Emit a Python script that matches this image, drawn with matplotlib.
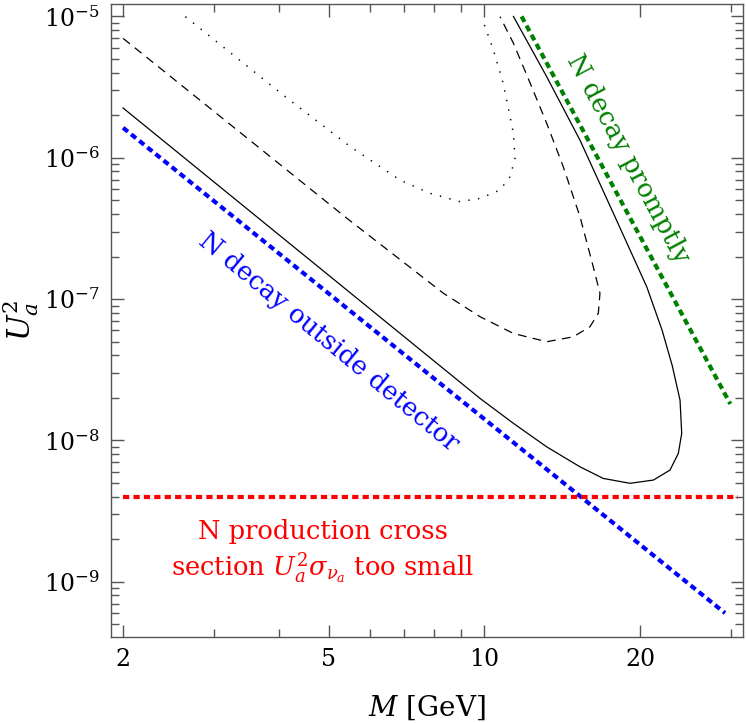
import matplotlib
matplotlib.use("Agg")
import matplotlib.pyplot as plt
from matplotlib.ticker import LogLocator, NullFormatter, FixedLocator, FixedFormatter

plt.rcParams['font.family'] = ['DejaVu Serif']
plt.rcParams['mathtext.fontset'] = 'dejavuserif'

# solid contour
solid_m = [2.0, 9.81, 11.38, 13.2, 15.31, 16.98, 19.13, 21.23, 22.86, 23.72,
           24.08, 23.9, 23.07, 22.06, 20.61, 17.76, 15.31, 13.2, 11.38]
solid_u = [2.25e-6, 1.98e-8, 1.32e-8, 9.0e-9, 6.5e-9, 5.38e-9, 4.97e-9,
           5.24e-9, 6.17e-9, 8.09e-9, 1.12e-8, 1.93e-8, 3.41e-8, 6.04e-8,
           1.22e-7, 4.05e-7, 1.33e-6, 3.74e-6, 1.0e-5]

# dashed contour
dashed_m = [2.0, 5.42, 8.33, 9.81, 11.38, 13.2, 14.86, 16.0, 16.61, 16.73,
            16.24, 15.31, 14.21, 13.2, 12.26, 11.38, 10.72]
dashed_u = [7.0e-6, 3.73e-7, 1.10e-7, 7.5e-8, 5.71e-8, 4.99e-8, 5.41e-8,
            6.37e-8, 7.93e-8, 1.10e-7, 1.69e-7, 3.82e-7, 8.63e-7, 1.75e-6,
            3.37e-6, 6.46e-6, 9.96e-6]

# dotted contour
dotted_m = [2.64, 4.08, 5.50, 6.87, 7.85, 8.97, 9.81, 10.72, 11.21, 11.46,
            11.38, 10.87, 10.41, 9.95]
dotted_u = [9.96e-6, 2.78e-6, 1.20e-6, 6.95e-7, 5.6e-7, 4.89e-7, 5.16e-7,
            5.91e-7, 7.34e-7, 9.84e-7, 1.49e-6, 3.37e-6, 5.78e-6, 9.17e-6]

# boundary lines
blue_m = [2.0, 29.2]
blue_u = [1.63e-6, 6.0e-10]
green_m = [11.8, 29.9]
green_u = [1.0e-5, 1.81e-8]
red_m = [2.0, 31.0]
red_u = [4.0e-9, 4.0e-9]

xticks = [2, 5, 10, 20]
xticklabels = ["2", "5", "10", "20"]


def main():
    fig = plt.figure(figsize=(7.46, 7.23), dpi=100)
    ax = fig.add_axes([0.1484, 0.1189, 0.9960 - 0.1484, 0.9945 - 0.1189])

    ax.plot(solid_m, solid_u, color='black', lw=0.9)
    ax.plot(dashed_m, dashed_u, color='black', lw=0.9, linestyle=(0, (7, 5)))
    ax.plot(dotted_m, dotted_u, color='black', lw=1.1, linestyle=(0, (0.9, 5.5)))

    ax.plot(blue_m, blue_u, color='#0000ff', lw=3, linestyle=(0, (1.5, 1.0)),
            dash_capstyle='butt')
    ax.plot(green_m, green_u, color='#008000', lw=3, linestyle=(0, (1.5, 1.0)),
            dash_capstyle='butt')
    ax.plot(red_m, red_u, color='#ff0000', lw=3, linestyle=(0, (1.5, 1.0)),
            dash_capstyle='butt')

    ax.text(19.0, 9.9e-7, "N decay promptly", color='#008000', fontsize=18.5,
            rotation=-61.8, ha='center', va='center', rotation_mode='anchor')
    ax.text(4.99, 5.0e-8, "N decay outside detector", color='#0000ff',
            fontsize=18.5, rotation=-39.5, ha='center', va='center',
            rotation_mode='anchor')
    ax.text(4.87, 1.62e-9,
            "N production cross\nsection $U_a^2\\sigma_{\\nu_a}$ too small",
            color='#ff0000', fontsize=18.5, ha='center', va='center',
            linespacing=1.25)

    ax.set_xscale('log')
    ax.set_yscale('log')
    ax.set_xlim(1.893, 31.64)
    ax.set_ylim(4.06e-10, 1.225e-5)

    ax.xaxis.set_major_locator(FixedLocator(xticks))
    ax.xaxis.set_major_formatter(FixedFormatter(xticklabels))
    ax.xaxis.set_minor_locator(FixedLocator([3, 4, 6, 7, 8, 9, 30]))
    ax.xaxis.set_minor_formatter(NullFormatter())
    ax.yaxis.set_major_locator(LogLocator(base=10, numticks=20))
    ax.yaxis.set_minor_locator(LogLocator(base=10, subs=range(2, 10), numticks=20))
    ax.yaxis.set_minor_formatter(NullFormatter())

    ax.tick_params(which='both', direction='in', top=True, right=True,
                   color='#555555', labelsize=17, width=1)
    ax.tick_params(which='major', length=9, pad=8)
    ax.tick_params(which='minor', length=5.5)
    for sp in ax.spines.values():
        sp.set_color('#555555')
        sp.set_linewidth(1.0)

    ax.set_xlabel("$M$ [GeV]", fontsize=20, labelpad=16)
    ax.set_ylabel("$U_a^2$", fontsize=22, labelpad=2)

    fig.savefig("out.png", dpi=100)


if __name__ == "__main__":
    main()
